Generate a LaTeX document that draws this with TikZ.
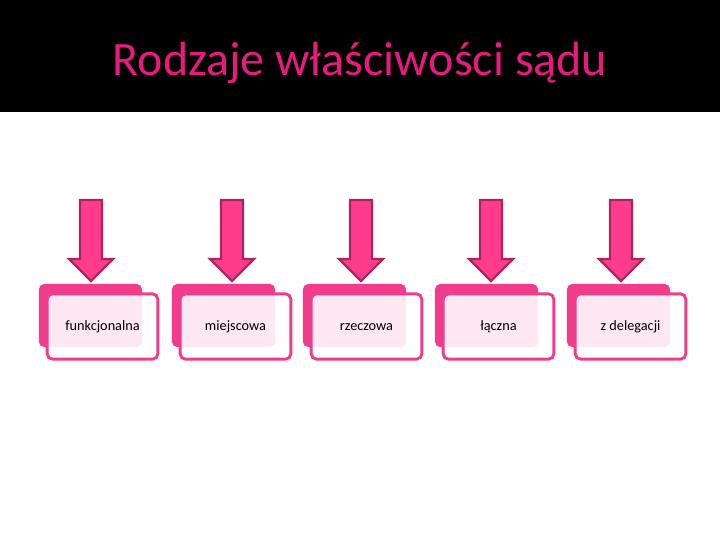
\documentclass[tikz,border=0pt]{standalone}
\usepackage{fontspec}
\setmainfont{Carlito}
\usepackage{xcolor}
\usepackage{tikz}
\usetikzlibrary{positioning}

\definecolor{titlepink}{HTML}{E8197F}
\definecolor{boxpink}{HTML}{F03C8A}
\definecolor{arrowpink}{HTML}{FF3C8C}
\definecolor{arrowedge}{HTML}{A82560}

\tikzset{
  backbox/.style={rectangle,rounded corners=4pt,fill=boxpink,draw=boxpink,
    minimum width=77pt,minimum height=47pt,inner sep=0pt},
  frontbox/.style={rectangle,rounded corners=4pt,draw=boxpink,line width=2.2pt,
    fill=white,fill opacity=0.88,text opacity=1,
    minimum width=83pt,minimum height=49pt,inner sep=0pt,
    text height=1.6ex,text depth=0.5ex,
    font=\fontsize{10.7}{12}\selectfont},
  blockarrow/.style={fill=arrowpink,draw=arrowedge,line width=1.6pt,line join=miter}
}

\begin{document}
\begin{tikzpicture}[x=0.75pt,y=-0.75pt]
\path[use as bounding box] (0,0) rectangle (720,540);

% title bar
\fill[black] (0,0) rectangle (720,112);
\node[text=titlepink,font=\fontsize{36}{42}\selectfont] (title) at (360,63) {Rodzaje właściwości sądu};

% boxes and arrows
\foreach \bx/\ax/\lbl [count=\i] in {90.5/91/funkcjonalna,223.5/232/miejscowa,
    354.5/361/rzeczowa,486.5/491/łączna,618.5/621/z delegacji}{
  \node[backbox] (b\i) at (\bx,315.5) {};
  \node[frontbox] (f\i) at (\bx+12,326.5) {\lbl};
  \draw[blockarrow] (\ax-11,200) -- (\ax+11,200) -- (\ax+11,259) -- (\ax+22,259)
    -- (\ax,281) -- (\ax-22,259) -- (\ax-11,259) -- cycle;
}
\end{tikzpicture}
\end{document}
